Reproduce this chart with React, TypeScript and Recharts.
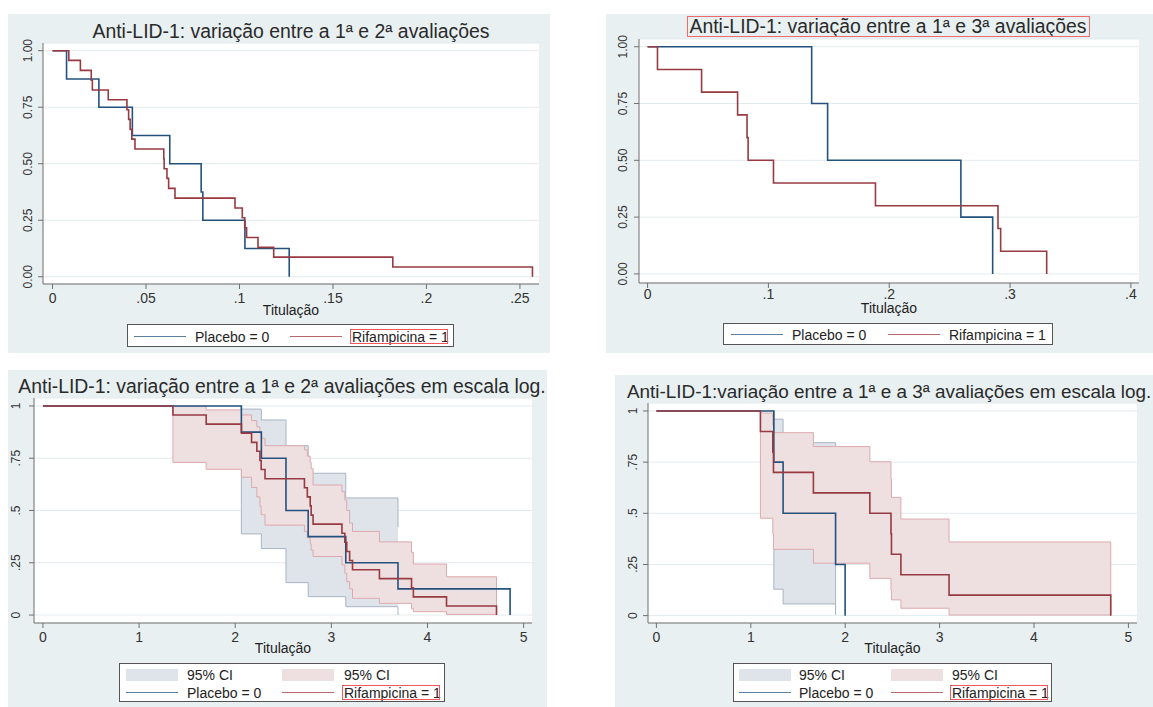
import { ComposedChart, Line, Area, XAxis, YAxis, CartesianGrid } from 'recharts'

// 1st vs 2nd evaluation
const p1PlaceboT = [0, 0.0075, 0.0248, 0.0427, 0.0627, 0.0795, 0.0804, 0.1029, 0.1266]
const p1PlaceboS = [1, 0.875, 0.75, 0.625, 0.5, 0.375, 0.25, 0.125, 0]
const p1RifT = [0, 0.0087, 0.0149, 0.0207, 0.0213, 0.0298, 0.0398, 0.0407, 0.0415, 0.0424, 0.0441, 0.0595, 0.0597, 0.0612, 0.0621, 0.0655, 0.0976, 0.1015, 0.1028, 0.1038, 0.1099, 0.1183, 0.182, 0.2567]
const rifS23 = [1, 0.957, 0.913, 0.870, 0.826, 0.783, 0.739, 0.696, 0.652, 0.609, 0.565, 0.522, 0.478, 0.435, 0.391, 0.348, 0.304, 0.261, 0.217, 0.174, 0.130, 0.087, 0.043, 0]

// 1st vs 3rd evaluation
const p2PlaceboT = [0, 0.1358, 0.149, 0.2593, 0.2856]
const p2PlaceboS = [1, 0.75, 0.5, 0.25, 0]
const p2RifT = [0, 0.0082, 0.0447, 0.0745, 0.0823, 0.0832, 0.1042, 0.1886, 0.29, 0.2922, 0.3303]
const p2RifS = [1, 0.9, 0.8, 0.7, 0.6, 0.5, 0.4, 0.3, 0.2, 0.1, 0]

// 1st vs 2nd, log scale, with 95% CI
const p3PlaceboT = [0, 2.064, 2.272, 2.528, 2.759, 3.15, 3.693, 4.859]
const p3PlaceboS = [1, 0.875, 0.75, 0.5, 0.375, 0.25, 0.125, 0]
const p3PlaceboCiT = [2.064, 2.064, 2.272, 2.528, 2.759, 3.15, 3.693]
const p3PlaceboLo = [1, 0.388, 0.318, 0.155, 0.088, 0.04, 0]
const p3PlaceboHi = [1, 0.985, 0.933, 0.81, 0.678, 0.56, 0.42]
const p3RifT = [0, 1.352, 1.698, 2.065, 2.17, 2.225, 2.257, 2.27, 2.31, 2.72, 2.75, 2.78, 2.79, 2.81, 3.11, 3.14, 3.16, 3.19, 3.22, 3.5, 3.834, 3.853, 4.198, 4.718]
const p3RifCiT = [1.352, 1.352, 1.698, 2.065, 2.17, 2.225, 2.257, 2.27, 2.31, 2.72, 2.75, 2.78, 2.79, 2.81, 3.11, 3.14, 3.16, 3.19, 3.22, 3.5, 3.834, 3.853, 4.198, 4.718]
const p3RifHi = [1, 0.998, 0.981, 0.957, 0.93, 0.9, 0.87, 0.845, 0.81, 0.79, 0.76, 0.73, 0.7, 0.622, 0.59, 0.55, 0.5, 0.44, 0.4, 0.35, 0.3, 0.244, 0.183, 0.003]
const p3RifLo = [1, 0.73, 0.697, 0.659, 0.61, 0.565, 0.52, 0.48, 0.43, 0.4, 0.37, 0.34, 0.31, 0.28, 0.24, 0.2, 0.16, 0.125, 0.08, 0.056, 0.03, 0.016, 0.003, 0.003]

// 1st vs 3rd, log scale, with 95% CI
const p4PlaceboT = [0, 1.244, 1.342, 1.898, 1.999]
const p4PlaceboS = [1, 0.75, 0.5, 0.25, 0]
const p4PlaceboCiT = [1.244, 1.244, 1.342, 1.898]
const p4PlaceboLo = [1, 0.129, 0.057, 0.005]
const p4PlaceboHi = [1, 0.96, 0.845, 0.005]
const p4RifT = [0, 1.102, 1.233, 1.24, 1.663, 2.261, 2.485, 2.49, 2.59, 3.1, 4.813]
const p4RifS = [1, 0.9, 0.8, 0.7, 0.6, 0.5, 0.4, 0.3, 0.2, 0.1, 0]
const p4RifCiT = [1.102, 1.102, 1.233, 1.24, 1.663, 2.261, 2.485, 2.49, 2.59, 3.1, 4.813]
const p4RifHi = [1, 0.99, 0.93, 0.894, 0.826, 0.752, 0.67, 0.578, 0.472, 0.36, 0.003]
const p4RifLo = [1, 0.476, 0.4, 0.324, 0.256, 0.182, 0.12, 0.077, 0.036, 0.003, 0.003]

const yTicks = [0, 0.25, 0.5, 0.75, 1]
const yLabelsLin = ['0.00', '0.25', '0.50', '0.75', '1.00']
const yLabelsLog = ['0', '.25', '.5', '.75', '1']
const p1XTicks = [0, 0.05, 0.1, 0.15, 0.2, 0.25]
const p1XLabels = ['0', '.05', '.1', '.15', '.2', '.25']
const p2XTicks = [0, 0.1, 0.2, 0.3, 0.4]
const p2XLabels = ['0', '.1', '.2', '.3', '.4']
const logXTicks = [0, 1, 2, 3, 4, 5]
const logXLabels = ['0', '1', '2', '3', '4', '5']

const FONT = '"Liberation Sans", Arial, Helvetica, sans-serif'
const BLUE = '#24527e'
const RED = '#983a42'
const BG = '#e9f0f2'

const steps = (t: number[], s: number[]) => t.map((x, i) => ({ t: x, s: s[i] }))
const band = (t: number[], lo: number[], hi: number[]) => t.map((x, i) => ({ t: x, ci: [lo[i], hi[i]] }))

type PanelProps = {
  left: number; top: number; width: number; height: number
  plot: { top: number; right: number; yw: number; xh: number }
  xDomain: [number, number]; yDomain: [number, number]
  xTicks: number[]; xLabels: string[]; yLabels: string[]
  yDx: number; xDy: number; titleOffset: number
  placebo: { t: number; s: number }[]; rif: { t: number; s: number }[]
  placeboCi?: { t: number; ci: number[] }[]; rifCi?: { t: number; ci: number[] }[]
}

function Panel(p: PanelProps) {
  const XTick = ({ x, y, payload }: any) => (
    <text x={x} y={y + p.xDy} textAnchor="middle" fontSize={14} fontFamily={FONT} fill="#333">
      {p.xLabels[p.xTicks.indexOf(payload.value)]}
    </text>
  )
  const YTick = ({ x, y, payload }: any) => (
    <text x={x - p.yDx} y={y} transform={`rotate(-90 ${x - p.yDx} ${y})`} textAnchor="middle"
      fontSize={12} fontFamily={FONT} fill="#333">
      {p.yLabels[yTicks.indexOf(payload.value)]}
    </text>
  )
  return (
    <div style={{ position: 'absolute', left: p.left, top: p.top, width: p.width, height: p.height, background: BG }}>
      <ComposedChart width={p.width} height={p.height}
        margin={{ top: p.plot.top, right: p.plot.right, left: 0, bottom: 0 }}>
        <CartesianGrid vertical={false} stroke="#e3ebee" fill="#fff" />
        <XAxis type="number" dataKey="t" domain={p.xDomain} ticks={p.xTicks} allowDataOverflow
          height={p.plot.xh} tickSize={5} stroke="#6f6f6f" tick={<XTick />} interval={0}
          label={{ value: 'Titulação', position: 'insideTop', offset: p.titleOffset, fill: '#222', fontSize: 14, fontFamily: FONT }} />
        <YAxis type="number" domain={p.yDomain} ticks={yTicks} allowDataOverflow width={p.plot.yw}
          tickSize={5} stroke="#6f6f6f" tick={<YTick />} interval={0} />
        {p.placeboCi && (
          <Area data={p.placeboCi} dataKey="ci" type="stepAfter" fill="#dfe3ea" fillOpacity={1}
            stroke="#a9b5c4" strokeWidth={1} isAnimationActive={false} />
        )}
        {p.rifCi && (
          <Area data={p.rifCi} dataKey="ci" type="stepAfter" fill="#eedfe0" fillOpacity={1}
            stroke="#dcaaae" strokeWidth={1} isAnimationActive={false} />
        )}
        <Line data={p.placebo} dataKey="s" type="stepAfter" stroke={BLUE} strokeWidth={1.6}
          dot={false} isAnimationActive={false} />
        <Line data={p.rif} dataKey="s" type="stepAfter" stroke={RED} strokeWidth={1.6}
          dot={false} isAnimationActive={false} />
      </ComposedChart>
    </div>
  )
}

const textRow = (left: number, top: number, txt: string) => (
  <div style={{ position: 'absolute', left, top: top - 9, height: 18, lineHeight: '18px', fontSize: 14, whiteSpace: 'nowrap', color: '#222' }}>{txt}</div>
)

function Legend({ left, top, width, height, ci, redBox, cols }: {
  left: number; top: number; width: number; height: number; ci: boolean; redBox: boolean; cols: number[]
}) {
  const [l1, t1, l2, t2] = cols
  const lineY = ci ? 29 : height / 2
  return (
    <div style={{ position: 'absolute', left, top, width, height, background: '#fff', border: '1px solid #555', boxSizing: 'border-box' }}>
      {ci && <>
        <div style={{ position: 'absolute', left: l1, top: 5, width: 52, height: 12, background: '#dfe3ea' }} />
        {textRow(t1, 11, '95% CI')}
        <div style={{ position: 'absolute', left: l2, top: 5, width: 52, height: 12, background: '#eedfe0' }} />
        {textRow(t2, 11, '95% CI')}
      </>}
      <div style={{ position: 'absolute', left: l1, top: lineY - 1, width: 52, borderTop: '1.5px solid #5d7fa2' }} />
      {textRow(t1, lineY, 'Placebo = 0')}
      <div style={{ position: 'absolute', left: l2, top: lineY - 1, width: 52, borderTop: '1.5px solid #b9686e' }} />
      {textRow(t2, lineY, 'Rifampicina = 1')}
      {redBox && <div style={{ position: 'absolute', left: t2 - 2, top: lineY - 8, width: 98, height: 15, border: '1px solid #f0585c', boxSizing: 'border-box' }} />}
    </div>
  )
}

const Title = ({ cx, cy, txt, left, size = 19.4 }: { cx?: number; cy: number; txt: string; left?: number; size?: number }) => (
  <div style={{
    position: 'absolute', top: cy - 12, height: 24, lineHeight: '24px', fontSize: size, color: '#2a2a2a', whiteSpace: 'nowrap',
    ...(left !== undefined ? { left } : { left: (cx as number) - 300, width: 600, textAlign: 'center' as const })
  }}>{txt}</div>
)

export default function App() {
  return (
    <div style={{ position: 'absolute', left: 0, top: 0, width: 1153, height: 707, background: '#fff', overflow: 'hidden', fontFamily: FONT }}>
      <Panel left={8} top={14} width={542} height={339} plot={{ top: 29, right: 11, yw: 35, xh: 69 }}
        xDomain={[-0.0051, 0.2602]} yDomain={[-0.032, 1.034]} xTicks={p1XTicks} xLabels={p1XLabels}
        yLabels={yLabelsLin} yDx={4} xDy={12} titleOffset={21}
        placebo={steps(p1PlaceboT, p1PlaceboS)} rif={steps(p1RifT, rifS23)} />
      <Panel left={606} top={14} width={547} height={339} plot={{ top: 25, right: 14, yw: 33, xh: 70 }}
        xDomain={[-0.0071, 0.4067]} yDomain={[-0.04, 1.034]} xTicks={p2XTicks} xLabels={p2XLabels}
        yLabels={yLabelsLin} yDx={5} xDy={9} titleOffset={20}
        placebo={steps(p2PlaceboT, p2PlaceboS)} rif={steps(p2RifT, p2RifS)} />
      <Panel left={8} top={370} width={539} height={337} plot={{ top: 28, right: 15, yw: 26, xh: 84 }}
        xDomain={[-0.093, 5.087]} yDomain={[-0.038, 1.038]} xTicks={logXTicks} xLabels={logXLabels}
        yLabels={yLabelsLog} yDx={7} xDy={12} titleOffset={20}
        placebo={steps(p3PlaceboT, p3PlaceboS)} rif={steps(p3RifT, rifS23)}
        placeboCi={band(p3PlaceboCiT, p3PlaceboLo, p3PlaceboHi)} rifCi={band(p3RifCiT, p3RifLo, p3RifHi)} />
      <Panel left={615} top={375} width={538} height={332} plot={{ top: 28, right: 16, yw: 33, xh: 84 }}
        xDomain={[-0.089, 5.091]} yDomain={[-0.036, 1.039]} xTicks={logXTicks} xLabels={logXLabels}
        yLabels={yLabelsLog} yDx={4} xDy={12} titleOffset={20}
        placebo={steps(p4PlaceboT, p4PlaceboS)} rif={steps(p4RifT, p4RifS)}
        placeboCi={band(p4PlaceboCiT, p4PlaceboLo, p4PlaceboHi)} rifCi={band(p4RifCiT, p4RifLo, p4RifHi)} />

      <Title cx={291} cy={31} txt="Anti-LID-1: variação entre a 1ª e 2ª avaliações" />
      <Title cx={888} cy={26} txt="Anti-LID-1: variação entre a 1ª e 3ª avaliações" />
      <div style={{ position: 'absolute', left: 687, top: 16, width: 403, height: 21, border: '1px solid #ee6a6e', boxSizing: 'border-box' }} />
      <Title cx={282} cy={386} txt="Anti-LID-1: variação entre a 1ª e 2ª avaliações em escala log." />
      <Title left={627} cy={392} size={18.9} txt="Anti-LID-1:variação entre a 1ª e a 3ª avaliações em escala log." />

      <Legend left={127} top={324} width={327} height={23} ci={false} redBox cols={[6, 67, 162, 224]} />
      <Legend left={723} top={323} width={330} height={22} ci={false} redBox={false} cols={[7, 68, 164, 225]} />
      <Legend left={119} top={663} width={326} height={39} ci redBox cols={[6, 67, 162, 224]} />
      <Legend left={733} top={663} width={319} height={39} ci redBox cols={[5, 65, 157, 218]} />
    </div>
  )
}
